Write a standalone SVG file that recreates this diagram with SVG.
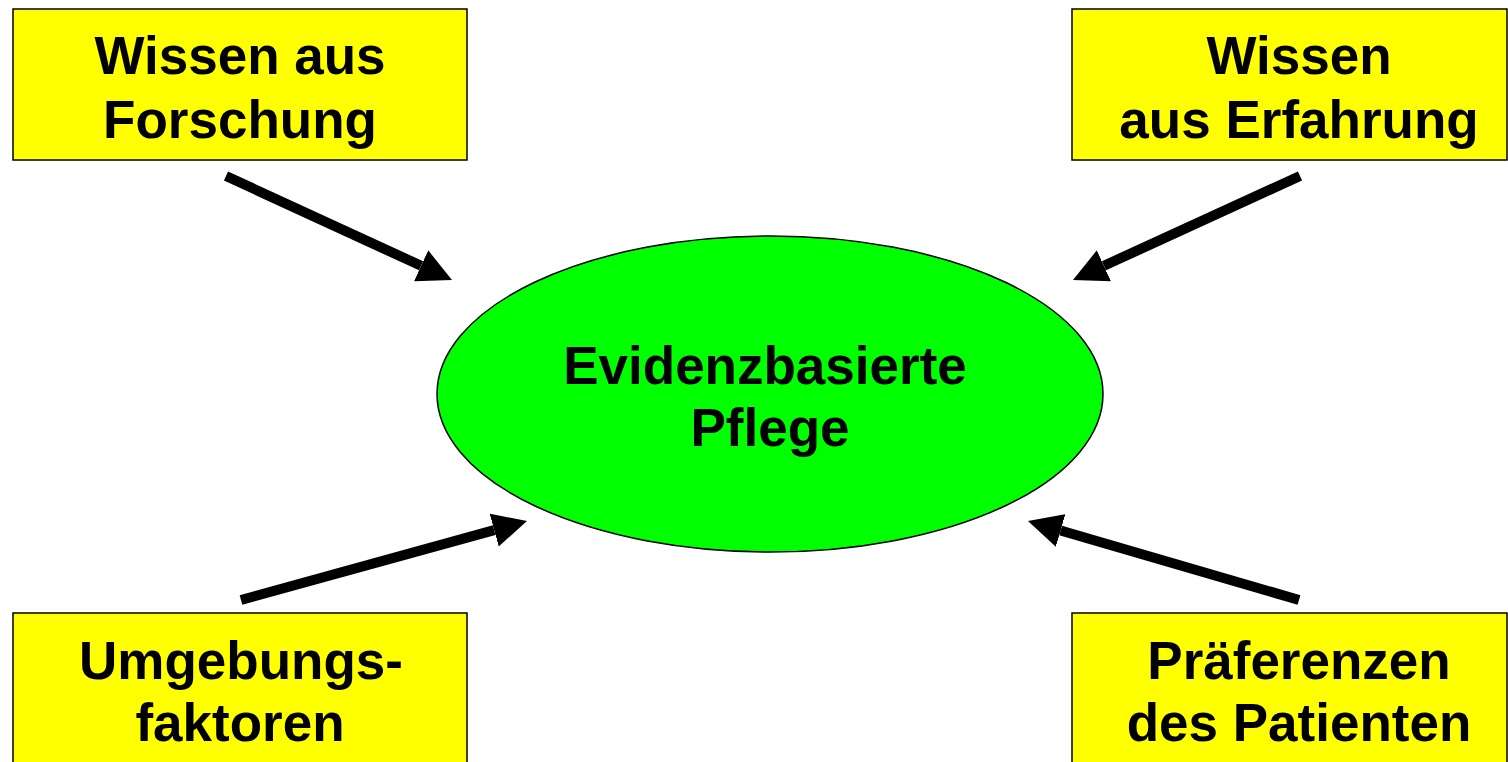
<svg xmlns="http://www.w3.org/2000/svg" width="1508" height="762" viewBox="0 0 1508 762">
<style>
.box{fill:#ffff00;stroke:#000;stroke-width:1.5}
.lbl{font-family:"Liberation Sans",Arial,sans-serif;font-weight:bold;font-size:53px;fill:#000;text-anchor:middle}
.arr{stroke:#000;stroke-width:10;fill:none;marker-end:url(#ah)}
</style>
<defs>
<marker id="ah" viewBox="0 0 34 34" markerWidth="34" markerHeight="34" markerUnits="userSpaceOnUse" refX="0" refY="17" orient="auto">
<path d="M0,0 L34,17 L0,34 z" fill="#000"/>
</marker>
</defs>
<rect width="1508" height="762" fill="#fff"/>
<g id="center">
<ellipse cx="770" cy="394" rx="333" ry="158" fill="#00ff00" stroke="#000" stroke-width="1.5"/>
<text class="lbl" x="765" y="384">Evidenzbasierte</text>
<text class="lbl" x="770" y="446">Pflege</text>
</g>
<g id="forschung">
<rect class="box" x="13" y="9" width="454" height="151"/>
<text class="lbl" x="240" y="74">Wissen aus</text>
<text class="lbl" x="240" y="138">Forschung</text>
</g>
<g id="erfahrung">
<rect class="box" x="1072" y="9" width="435" height="151"/>
<text class="lbl" x="1299" y="74">Wissen</text>
<text class="lbl" x="1299" y="138">aus Erfahrung</text>
</g>
<g id="umgebung">
<rect class="box" x="13" y="613" width="454" height="160"/>
<text class="lbl" x="241" y="679">Umgebungs-</text>
<text class="lbl" x="240" y="741">faktoren</text>
</g>
<g id="praeferenzen">
<rect class="box" x="1072" y="613" width="435" height="160"/>
<text class="lbl" x="1299" y="679">Präferenzen</text>
<text class="lbl" x="1299" y="741">des Patienten</text>
</g>
<g id="connectors">
<line class="arr" x1="226" y1="176" x2="421.1" y2="265.8"/>
<line class="arr" x1="1300" y1="176" x2="1103.9" y2="265.8"/>
<line class="arr" x1="241" y1="600" x2="494.2" y2="530.1"/>
<line class="arr" x1="1299" y1="600" x2="1060.6" y2="530.5"/>
</g>
</svg>
